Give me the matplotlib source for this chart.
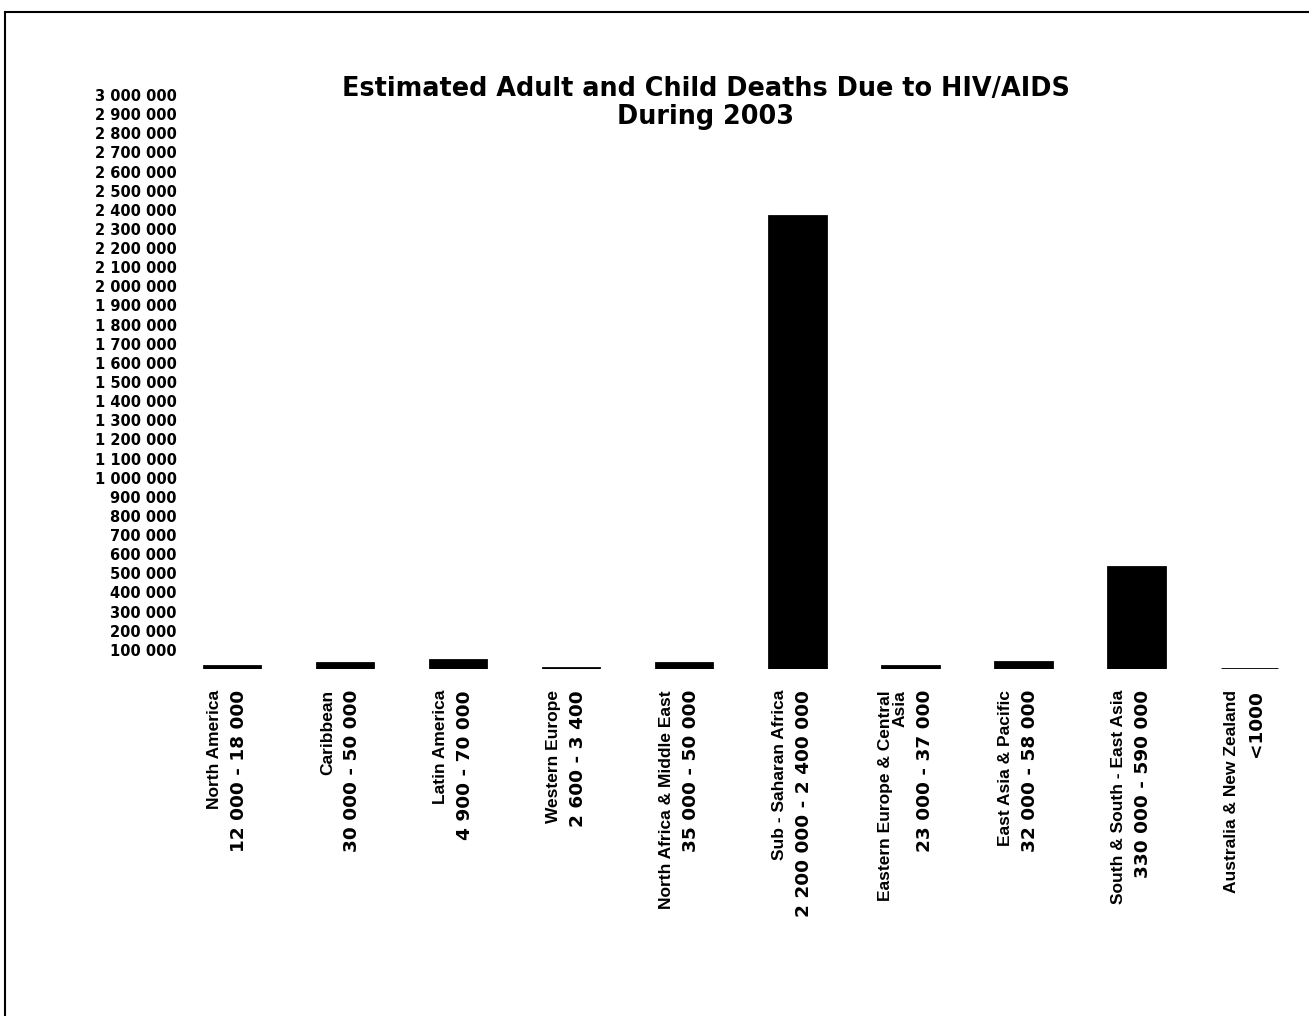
import matplotlib.pyplot as plt
from matplotlib.patches import Rectangle
from matplotlib.transforms import ScaledTranslation

region_names = [
    'North America',
    'Caribbean',
    'Latin America',
    'Western Europe',
    'North Africa & Middle East',
    'Sub - Saharan Africa',
    'Eastern Europe & Central\nAsia',
    'East Asia & Pacific',
    'South & South - East Asia',
    'Australia & New Zealand',
]
death_ranges = [
    '12 000 - 18 000',
    '30 000 - 50 000',
    '4 900 - 70 000',
    '2 600 - 3 400',
    '35 000 - 50 000',
    '2 200 000 - 2 400 000',
    '23 000 - 37 000',
    '32 000 - 58 000',
    '330 000 - 590 000',
    '<1000',
]
deaths = [15000, 30000, 45000, 3000, 30000, 2370000, 15000, 35000, 535000, 1000]

y_ticks = list(range(100000, 3000001, 100000))
y_labels = [f'{v:,}'.replace(',', ' ') for v in y_ticks]

plt.rcParams['font.family'] = 'DejaVu Sans'
plt.rcParams['font.weight'] = 'bold'

fig = plt.figure(figsize=(13.09, 10.16), dpi=100)
W, H = 1309, 1016

# axes placed in pixel terms: zero line near y=669, 3 000 000 near y=95
left_px, right_px, bottom_px, top_px = 181, 1306, 669, 95
ax = fig.add_axes([left_px / W, 1 - bottom_px / H,
                   (right_px - left_px) / W, (bottom_px - top_px) / H])

x = list(range(len(region_names)))
ax.bar(x, deaths, width=0.5, color='black', edgecolor='black', linewidth=2)

ax.set_xlim((left_px - 232) / 113.1, 9.5)
ax.set_ylim(0, 3000000)

ax.set_yticks(y_ticks)
ax.set_yticklabels(y_labels, fontsize=10.5, fontweight='bold')
ax.set_xticks(x)
ax.set_xticklabels([])

ax.tick_params(axis='y', length=0, pad=3)
ax.tick_params(axis='x', length=0)
for s in ax.spines.values():
    s.set_visible(False)

# category labels: region name column(s) then the range column, read upwards
base = ax.get_xaxis_transform()
name_pitch = 15
col_w = 15
gap = 8
for i, (name, rng) in enumerate(zip(region_names, death_ranges)):
    n_lines = name.count('\n') + 1
    name_w = col_w + (n_lines - 1) * name_pitch
    total = name_w + gap + col_w
    name_right = -6 - total / 2 + name_w
    num_left = name_right + gap
    ax.text(i, 0, name, rotation=90, ha='right', va='top',
            multialignment='right', fontsize=12.5, fontweight='bold',
            family='Liberation Sans', linespacing=1.0,
            transform=base + ScaledTranslation(name_right / 100, -21 / 100,
                                               fig.dpi_scale_trans))
    ax.text(i, 0, rng, rotation=90, ha='left', va='top',
            fontsize=13.3, fontweight='bold',
            transform=base + ScaledTranslation(num_left / 100, -21 / 100,
                                               fig.dpi_scale_trans))

fig.text(706 / W, 1 - 103 / H,
         'Estimated Adult and Child Deaths Due to HIV/AIDS\nDuring 2003',
         ha='center', va='center', fontsize=18.4, fontweight='bold',
         linespacing=1.09)

# page frame
fig.patches.append(Rectangle((5 / W, -0.05), 1.2, 1.05 - 12 / H,
                             transform=fig.transFigure, fill=False,
                             edgecolor='black', linewidth=1.5))

fig.savefig('out.png', dpi=100)
